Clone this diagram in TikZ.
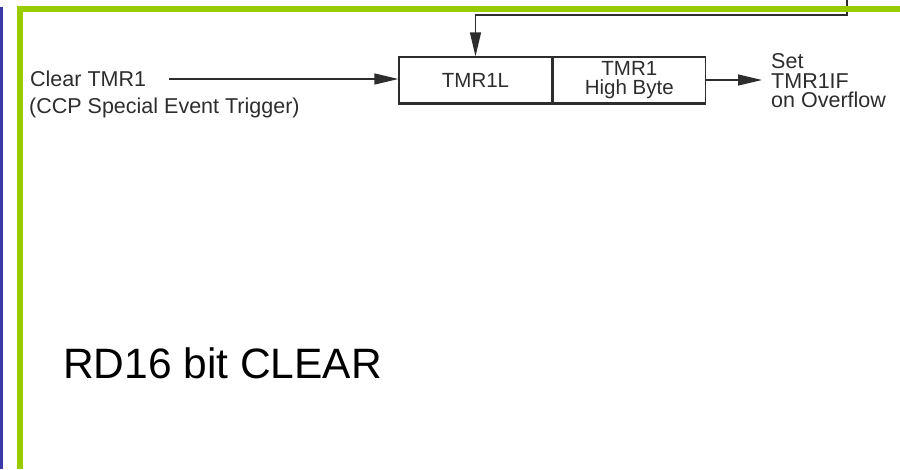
\documentclass[tikz,border=0pt]{standalone}
\usepackage{fontspec}
\setmainfont{Liberation Sans}
\usepackage{xcolor}
\usetikzlibrary{arrows.meta,positioning,calc}
\definecolor{barblue}{RGB}{58,58,168}
\definecolor{bargreen}{RGB}{153,204,0}
\definecolor{ink}{RGB}{45,45,45}
\tikzset{
  reg/.style={draw=ink, line width=1.3pt, minimum height=46pt, minimum width=153pt,
    inner sep=0pt, align=center, text=ink, font=\fontsize{20.5}{19}\selectfont},
  lbl/.style={inner sep=0pt, text=ink, align=left, font=\fontsize{21.5}{19.5}\selectfont},
  flow/.style={-{Triangle[length=24pt,width=11pt]}, draw=ink, line width=1.3pt}
}

\begin{document}
\begin{tikzpicture}[x=1pt, y=-1pt]
  \useasboundingbox (0,0) rectangle (900,469);

  % side bars and frame
  \fill[barblue] (0,7) rectangle (3,469);

  % timer register
  \node[reg] (tmrl) at (475.5,80) {TMR1L};
  \node[reg, right=0pt of tmrl, minimum width=152pt] (tmrh) {TMR1\\High Byte};
  \draw[ink, line width=2.2pt] (tmrl.south west) -- (tmrh.south east);

  % input side
  \node[lbl, anchor=west] (clr) at (30,79) {Clear TMR1};
  \node[lbl, anchor=west] (ccp) at (29,108) {(CCP Special Event Trigger)};
  \draw[flow] ([xshift=23pt]clr.east) -- (clr.east -| tmrl.west);

  % overflow output
  \node[lbl, anchor=west] (ovf) at (771,81) {Set\\TMR1IF\\on Overflow};
  \draw[flow] (tmrh.east) -- ([xshift=-9pt]tmrh.east -| ovf.west);

  % feedback from above
  \coordinate (fbtop) at (847,0);
  \coordinate (fbcorner) at (847,15);
  \draw[flow] (fbtop) -- (fbcorner) -| (tmrl.north);

  \fill[bargreen] (17,6) rectangle (900,12);
  \fill[bargreen] (17,6) rectangle (23,469);

  \node[inner sep=0pt, anchor=base west, font=\fontsize{42.5}{48}\selectfont] (rd16) at (63,378) {RD16 bit CLEAR};
\end{tikzpicture}
\end{document}
